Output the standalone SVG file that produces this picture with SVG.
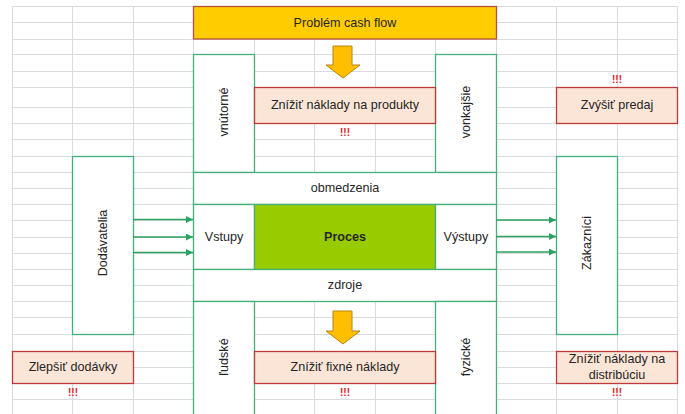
<svg xmlns="http://www.w3.org/2000/svg" width="685" height="414" viewBox="0 0 685 414">
<defs>
<style>
.grid line{stroke:#dadbe0;stroke-width:1}
.box{fill:#fff;stroke:#46b07a;stroke-width:1.3}
.goal{fill:#fbe5d6;stroke:#c0393b;stroke-width:1.3}
.t{font-family:"Liberation Sans",Arial,sans-serif;font-size:12.6px;fill:#262626;text-anchor:middle;dominant-baseline:central}
.ex{font-family:"Liberation Sans",Arial,sans-serif;font-size:10px;font-weight:bold;fill:#e8151e;text-anchor:middle;dominant-baseline:central}
.arr{fill:#ffbf00;stroke:#b8860b;stroke-width:1}
.conn line{stroke:#2aa360;stroke-width:1.3}
</style>
<marker id="ah" viewBox="0 0 10 10" refX="10" refY="5" markerWidth="7" markerHeight="7" markerUnits="userSpaceOnUse" orient="auto"><path d="M0,0L10,5L0,10z" fill="#2aa360"/></marker>
</defs>
<rect width="685" height="414" fill="#fff"/>
<g class="grid">
<line x1="12.5" y1="6.5" x2="12.5" y2="414"/><line x1="72.5" y1="6.5" x2="72.5" y2="414"/><line x1="133.5" y1="6.5" x2="133.5" y2="414"/><line x1="193.5" y1="6.5" x2="193.5" y2="414"/><line x1="254.5" y1="6.5" x2="254.5" y2="414"/><line x1="314.5" y1="6.5" x2="314.5" y2="414"/><line x1="375.5" y1="6.5" x2="375.5" y2="414"/><line x1="435.5" y1="6.5" x2="435.5" y2="414"/><line x1="496.5" y1="6.5" x2="496.5" y2="414"/><line x1="556.5" y1="6.5" x2="556.5" y2="414"/><line x1="617.5" y1="6.5" x2="617.5" y2="414"/><line x1="677.5" y1="6.5" x2="677.5" y2="414"/>
<line x1="12" y1="6.5" x2="678" y2="6.5"/><line x1="12" y1="22.5" x2="678" y2="22.5"/><line x1="12" y1="39.5" x2="678" y2="39.5"/><line x1="12" y1="54.5" x2="678" y2="54.5"/><line x1="12" y1="71.5" x2="678" y2="71.5"/><line x1="12" y1="87.5" x2="678" y2="87.5"/><line x1="12" y1="107.5" x2="678" y2="107.5"/><line x1="12" y1="123.5" x2="678" y2="123.5"/><line x1="12" y1="139.5" x2="678" y2="139.5"/><line x1="12" y1="156.5" x2="678" y2="156.5"/><line x1="12" y1="172.5" x2="678" y2="172.5"/><line x1="12" y1="188.5" x2="678" y2="188.5"/><line x1="12" y1="204.5" x2="678" y2="204.5"/><line x1="12" y1="220.5" x2="678" y2="220.5"/><line x1="12" y1="237.5" x2="678" y2="237.5"/><line x1="12" y1="253.5" x2="678" y2="253.5"/><line x1="12" y1="269.5" x2="678" y2="269.5"/><line x1="12" y1="285.5" x2="678" y2="285.5"/><line x1="12" y1="301.5" x2="678" y2="301.5"/><line x1="12" y1="317.5" x2="678" y2="317.5"/><line x1="12" y1="334.5" x2="678" y2="334.5"/><line x1="12" y1="351.5" x2="678" y2="351.5"/><line x1="12" y1="367.5" x2="678" y2="367.5"/><line x1="12" y1="383.5" x2="678" y2="383.5"/><line x1="12" y1="399.5" x2="678" y2="399.5"/>
</g>
<g id="problem">
<rect x="193.5" y="6.5" width="303" height="32.5" fill="#ffcc00" stroke="#b5523b" stroke-width="1.3"/>
<text class="t" x="345" y="23">Problém cash flow</text>
</g>
<g id="arrow-top"><polygon class="arr" points="333,46 352,46 352,65 360,65 343,78 326,65 333,65"/></g>
<g id="vnutorne"><rect class="box" x="193.5" y="54.5" width="61" height="118"/><text class="t" transform="translate(224,112) rotate(-90)">vnútorné</text></g>
<g id="vonkajsie"><rect class="box" x="435.5" y="54.5" width="61" height="118"/><text class="t" transform="translate(466,112) rotate(-90)">vonkajšie</text></g>
<g id="znizit-produkty"><rect class="goal" x="254.5" y="87.5" width="181" height="36"/><text class="t" x="345" y="105">Znížiť náklady na produkty</text><text class="ex" x="345" y="132">!!!</text></g>
<g id="zvysit-predaj"><rect class="goal" x="556.5" y="87.5" width="121" height="36"/><text class="t" x="617" y="105">Zvýšiť predaj</text><text class="ex" x="617" y="79">!!!</text></g>
<g id="obmedzenia"><rect class="box" x="193.5" y="172.5" width="303" height="32"/><text class="t" x="345" y="188">obmedzenia</text></g>
<g id="vstupy"><rect class="box" x="193.5" y="204.5" width="61" height="65"/><text class="t" x="224" y="237">Vstupy</text></g>
<g id="proces"><rect x="254.5" y="204.5" width="181" height="65" fill="#99cc00" stroke="#46b07a" stroke-width="1.3"/><text class="t" x="345" y="237" font-weight="bold">Proces</text></g>
<g id="vystupy"><rect class="box" x="435.5" y="204.5" width="61" height="65"/><text class="t" x="466" y="237">Výstupy</text></g>
<g id="zdroje"><rect class="box" x="193.5" y="269.5" width="303" height="32"/><text class="t" x="345" y="285">zdroje</text></g>
<g id="ludske"><rect class="box" x="193.5" y="301.5" width="61" height="120"/><text class="t" transform="translate(224,357) rotate(-90)">ľudské</text></g>
<g id="fyzicke"><rect class="box" x="435.5" y="301.5" width="61" height="120"/><text class="t" transform="translate(466,357) rotate(-90)">fyzické</text></g>
<g id="arrow-bottom"><polygon class="arr" points="333,311 352,311 352,331 360,331 343,344 326,331 333,331"/></g>
<g id="znizit-fixne"><rect class="goal" x="254.5" y="351.5" width="181" height="32"/><text class="t" x="345" y="367">Znížiť fixné náklady</text><text class="ex" x="345" y="392">!!!</text></g>
<g id="dodavatelia"><rect class="box" x="72.5" y="156.5" width="61" height="178"/><text class="t" transform="translate(103,243) rotate(-90)">Dodávatelia</text></g>
<g id="zakaznici"><rect class="box" x="556.5" y="156.5" width="61" height="178"/><text class="t" transform="translate(587,243) rotate(-90)">Zákazníci</text></g>
<g id="zlepsit-dodavky"><rect class="goal" x="12.5" y="351.5" width="121" height="32"/><text class="t" x="73" y="367">Zlepšiť dodávky</text><text class="ex" x="73" y="392">!!!</text></g>
<g id="znizit-distribuciu"><rect class="goal" x="556.5" y="351.5" width="121" height="32"/><text class="t" x="617" y="359">Znížiť náklady na</text><text class="t" x="617" y="375">distribúciu</text><text class="ex" x="617" y="392">!!!</text></g>
<g id="connectors" class="conn">
<line x1="133" y1="219.5" x2="193" y2="219.5" marker-end="url(#ah)"/>
<line x1="133" y1="237" x2="193" y2="237" marker-end="url(#ah)"/>
<line x1="133" y1="252.5" x2="193" y2="252.5" marker-end="url(#ah)"/>
<line x1="496" y1="220" x2="556" y2="220" marker-end="url(#ah)"/>
<line x1="496" y1="236.5" x2="556" y2="236.5" marker-end="url(#ah)"/>
<line x1="496" y1="252" x2="556" y2="252" marker-end="url(#ah)"/>
</g>
</svg>
